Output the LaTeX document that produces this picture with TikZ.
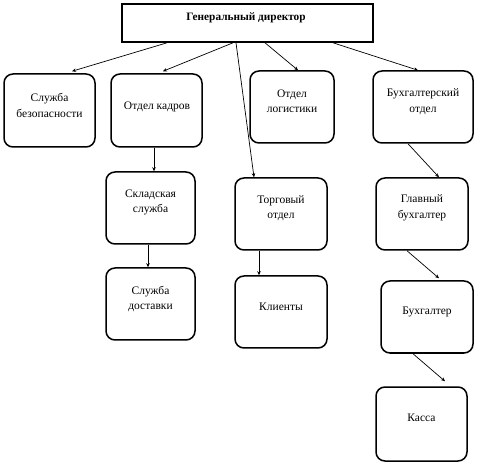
\documentclass[tikz,border=0pt]{standalone}
\usepackage{fontspec}
\setmainfont{Liberation Serif}
\usetikzlibrary{arrows.meta,calc}
\begin{document}
\begin{tikzpicture}[x=1pt,y=-1pt,
  box/.style={draw, line width=1.5pt, rounded corners=9pt, minimum width=#1, minimum height=73pt, inner sep=0pt},
  box/.default=91pt,
  topbox/.style={draw, line width=1.6pt, minimum width=251pt, minimum height=38pt, inner sep=0pt},
  txt/.style={align=center, inner sep=0pt, font=\fontsize{11.5}{15.5}\selectfont},
  arr/.style={line width=0.7pt, -{Stealth[length=4pt,width=3.5pt]}},
  ln/.style={line width=0.7pt}]
\useasboundingbox (0,0) rectangle (477,465);
% boxes
\node[topbox] (gd) at (247.5,23) {};
\node[txt, font=\fontsize{11.3}{15.5}\selectfont\bfseries] (gdt) at (246,17.5) {Генеральный директор};
\node[box=91pt] (sb) at (49.5,110.5) {};
\node[txt] (sbt) at (49.5,105.5) {Служба\\безопасности};
\node[box=91pt] (ok) at (156.5,110.5) {};
\node[txt] (okt) at (157,107) {Отдел кадров};
\node[box=84pt, minimum height=72pt] (ol) at (292,107) {};
\node[txt] (olt) at (292,101.5) {Отдел\\логистики};
\node[box=100pt, minimum height=72pt] (bo) at (423,107) {};
\node[txt] (bot) at (423,101.5) {Бухгалтерский\\отдел};
\node[box=89pt, minimum height=72pt] (ss) at (150.5,208) {};
\node[txt] (sst) at (150.5,202.5) {Складская\\служба};
\node[box=92pt, minimum height=72pt] (to) at (281,214) {};
\node[txt] (tot) at (281,208) {Торговый\\отдел};
\node[box=92pt, minimum height=72pt] (gb) at (422,214) {};
\node[txt] (gbt) at (422,208) {Главный\\бухгалтер};
\node[box=89pt, minimum height=72pt] (sd) at (150.5,304) {};
\node[txt] (sdt) at (150.5,299) {Служба\\доставки};
\node[box=92pt, minimum height=72pt] (kl) at (281,312) {};
\node[txt] (klt) at (281,307) {Клиенты};
\node[box=92pt, minimum height=72pt] (bu) at (427,317) {};
\node[txt] (but) at (427,312) {Бухгалтер};
\node[box=91pt, minimum height=74pt] (ka) at (421.5,424) {};
\node[txt] (kat) at (421.5,418) {Касса};
% connectors
\draw[arr] ($(gd.south)+(-80.5,0)$) -- ($(sb.north)+(22.5,-2)$);
\draw[arr] ($(gd.south)+(-14.5,0)$) -- ($(ok.north)+(6.5,-2)$);
\draw[arr] ($(gd.south)+(-11.5,0)$) -- ($(to.north)+(-27,0)$);
\draw[arr] ($(gd.south)+(17.5,0)$) -- ($(ol.north)+(6,0)$);
\draw[arr] ($(gd.south)+(85.5,0)$) -- ($(bo.north)+(-5,0)$);
\draw[arr] ($(ok.south)+(-2.5,0)$) -- ($(ss.north)+(3.5,0)$);
\draw[arr] ($(bo.south)+(-15,0)$) -- ($(gb.north)+(17,0)$);
\draw[arr] ($(ss.south)+(-2.5,0)$) -- ($(sd.north)+(-2.5,0)$);
\draw[arr] ($(to.south)+(-22,0)$) -- ($(kl.north)+(-22,0)$);
\draw[arr] ($(gb.south)+(-15,0)$) -- ($(bu.north)+(12,-2)$);
\draw[arr] ($(bu.south)+(-14,0)$) -- ($(ka.north)+(23.5,-5)$);
\end{tikzpicture}
\end{document}
